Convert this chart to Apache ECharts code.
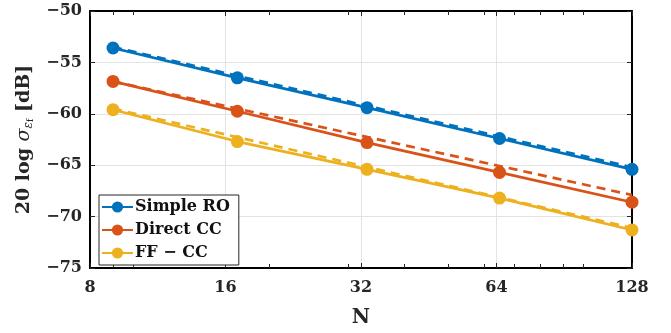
<!DOCTYPE html>
<html>
<head>
<meta charset="utf-8">
<script src="https://cdn.jsdelivr.net/npm/echarts@6/dist/echarts.min.js"></script>
<style>
html, body { margin: 0; padding: 0; background: #fff; }
#chart { width: 671px; height: 333px; }
</style>
</head>
<body>
<div id="chart"></div>
<script>
// values
const N = [9, 17, 33, 65, 128];
const simpleRO = [-53.6, -56.5, -59.4, -62.4, -65.4];
const directCC = [-56.85, -59.75, -62.8, -65.7, -68.6];
const ffCC = [-59.6, -62.7, -65.4, -68.2, -71.3];

// dashed reference lines (end points only)
const fitN = [9, 128];
const simpleROFit = [-53.5, -65.2];
const directCCFit = [-56.85, -67.9];
const ffCCFit = [-59.5, -71.1];

const xTicks = [8, 16, 32, 64, 128];
const xMinorTicks = [9, 10, 20, 30, 40, 50, 60, 70, 80, 90, 100];
const yTicks = [-75, -70, -65, -60, -55, -50];

const FONT = 'DejaVu Serif';
const INK = '#262626';
const colors = ['#0072BD', '#D95319', '#EDB120'];

const pairs = (xs, ys) => xs.map((x, i) => [x, ys[i]]);

const solid = (name, ys, color) => ({
    name: name,
    type: 'line',
    xAxisIndex: 0,
    yAxisIndex: 0,
    data: pairs(N, ys),
    color: color,
    symbol: 'circle',
    symbolSize: 13,
    lineStyle: {width: 2.7, color: color},
    itemStyle: {color: color},
    clip: false,
    z: 3
})

const dashed = (name, ys, color) => ({
    name: name,
    type: 'line',
    xAxisIndex: 0,
    yAxisIndex: 0,
    data: pairs(fitN, ys),
    symbol: 'none',
    lineStyle: {width: 2.7, color: color, type: [9, 6]},
    clip: false,
    z: 2
})

const chart = echarts.init(document.getElementById('chart'))
const baseX = {
    type: 'log',
    logBase: 2,
    min: 8,
    max: 128,
    axisLine: {show: true, lineStyle: {color: '#000', width: 2}},
    axisTick: {show: true, inside: true, length: 5, customValues: xTicks, lineStyle: {color: INK, width: 1}},
    splitLine: {show: false},
    axisLabel: {show: false}
}
const minorX = {
    type: 'log',
    logBase: 2,
    min: 8,
    max: 128,
    axisLine: {show: false},
    axisTick: {show: true, inside: true, length: 4, customValues: xMinorTicks, lineStyle: {color: INK, width: 1}},
    splitLine: {show: false},
    axisLabel: {show: false}
}

const option = {
    animation: false,
    backgroundColor: '#fff',
    grid: {left: 90, top: 11, right: 39, bottom: 58},
    legend: {
        data: ['Simple RO', 'Direct CC', 'FF \u2212 CC'],
        orient: 'vertical',
        left: 99,
        top: 195,
        itemWidth: 31,
        itemHeight: 14,
        itemGap: 7,
        padding: [4, 9, 4, 2],
        borderColor: INK,
        borderWidth: 1,
        borderRadius: 0,
        backgroundColor: '#fff',
        textStyle: {fontFamily: FONT, fontWeight: 'bold', fontSize: 16, color: '#111', padding: [0, 0, 0, -3]}
    },
    xAxis: [
        Object.assign({}, baseX, {
            position: 'bottom',
            name: 'N',
            nameLocation: 'middle',
            nameGap: 40,
            nameTextStyle: {fontFamily: FONT, fontWeight: 'bold', fontSize: 20, color: INK},
            splitLine: {show: true, lineStyle: {color: '#e3e3e3', width: 1}},
            axisLabel: {
                show: true,
                customValues: xTicks,
                margin: 12,
                fontFamily: FONT,
                fontWeight: 'bold',
                fontSize: 16,
                color: INK
            }
        }),
        Object.assign({}, baseX, {position: 'top'}),
        Object.assign({}, minorX, {position: 'bottom'}),
        Object.assign({}, minorX, {position: 'top'})
    ],
    yAxis: [
        {
            type: 'value',
            position: 'left',
            min: -75,
            max: -50,
            interval: 5,
            name: '{t|20 log }{s|\u03c3}{e|\u03b5}{f|f}{t| [dB]}',
            nameLocation: 'middle',
            nameRotate: 90,
            nameGap: 51,
            nameTextStyle: {
                color: INK,
                rich: {
                    t: {fontFamily: FONT, fontWeight: 'bold', fontSize: 19, color: INK},
                    s: {fontFamily: FONT, fontStyle: 'italic', fontSize: 19, color: INK},
                    e: {fontFamily: FONT, fontStyle: 'italic', fontSize: 12, color: INK, padding: [9, 0, 0, 0]},
                    f: {fontFamily: FONT, fontSize: 9, color: INK, padding: [14, 0, 0, 0]}
                }
            },
            axisLine: {show: true, lineStyle: {color: '#000', width: 2}},
            axisTick: {show: true, inside: true, length: 5, lineStyle: {color: INK, width: 1}},
            splitLine: {show: true, lineStyle: {color: '#e3e3e3', width: 1}},
            axisLabel: {
                margin: 8,
                fontFamily: FONT,
                fontWeight: 'bold',
                fontSize: 16,
                color: INK,
                formatter: v => String(v).replace('-', '\u2212')
            }
        },
        {
            type: 'value',
            position: 'right',
            min: -75,
            max: -50,
            interval: 5,
            axisLine: {show: true, lineStyle: {color: '#000', width: 2}},
            axisTick: {show: true, inside: true, length: 5, lineStyle: {color: INK, width: 1}},
            splitLine: {show: false},
            axisLabel: {show: false}
        }
    ],
    series: [
        solid('Simple RO', simpleRO, colors[0]),
        solid('Direct CC', directCC, colors[1]),
        solid('FF \u2212 CC', ffCC, colors[2]),
        dashed('Simple RO fit', simpleROFit, colors[0]),
        dashed('Direct CC fit', directCCFit, colors[1]),
        dashed('FF \u2212 CC fit', ffCCFit, colors[2])
    ]
}
chart.setOption(option)
</script>
</body>
</html>
